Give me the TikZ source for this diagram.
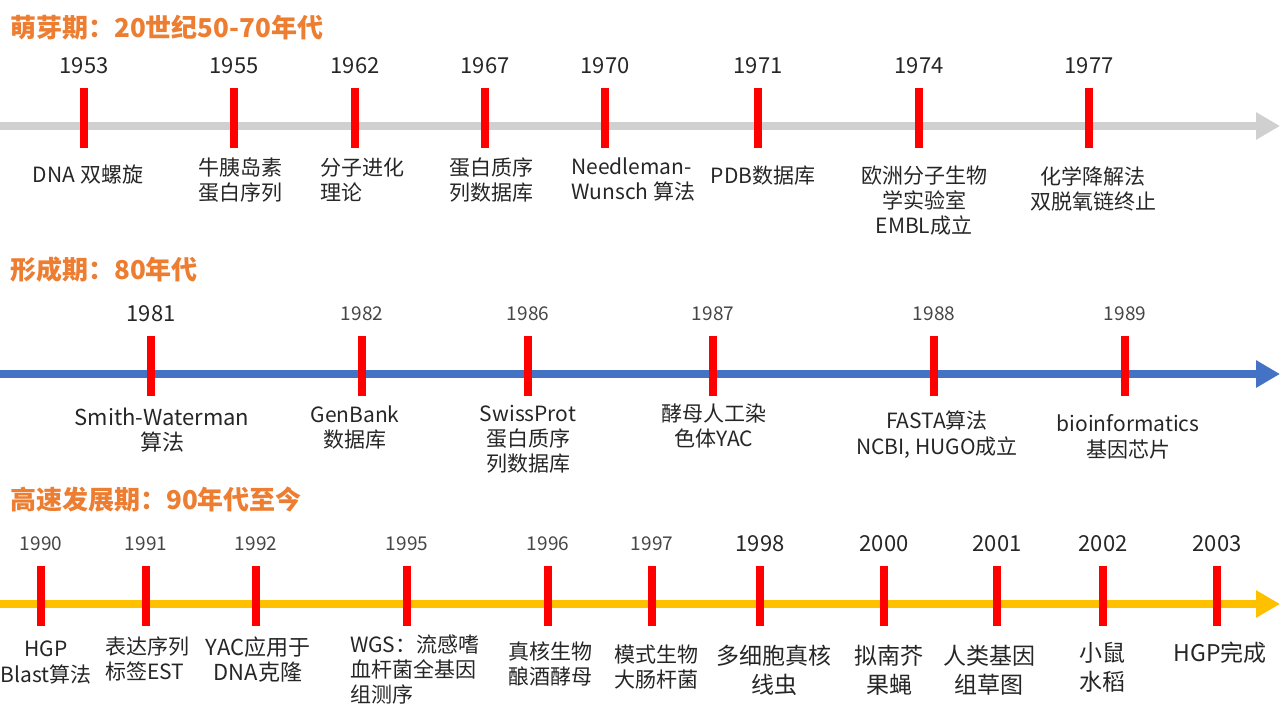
\documentclass[tikz,border=0pt]{standalone}
\usepackage{fontspec}
\setmainfont{Noto Sans CJK SC}
\usetikzlibrary{arrows.meta,positioning}
\definecolor{mOrange}{RGB}{237,125,49}
\definecolor{mGrey}{RGB}{208,208,208}
\definecolor{mBlue}{RGB}{68,114,196}
\definecolor{mGold}{RGB}{255,192,0}
\definecolor{mTick}{RGB}{255,0,0}
\definecolor{mText}{RGB}{38,38,38}
\definecolor{mSoft}{RGB}{70,70,70}
\tikzset{
  axisline/.style={line width=8pt, -{Triangle[length=24pt,width=26pt]}},
  tickmark/.style={mTick, line width=8pt},
  period/.style={anchor=west, inner sep=0pt, text=mOrange, font=\fontsize{26}{28}\selectfont\bfseries},
  yearbig/.style={inner sep=0pt, text=mText, font=\fontsize{22}{24}\selectfont},
  yearsoft/.style={inner sep=0pt, text=mSoft, font=\fontsize{19}{22}\selectfont},
  event/.style={anchor=north, inner sep=0pt, align=center, text=mText, font=\fontsize{21}{25}\selectfont},
  eventbig/.style={event, font=\fontsize{23}{29}\selectfont},
}

\begin{document}
\begin{tikzpicture}[x=1pt, y=-1pt]
  \useasboundingbox (0,0) rectangle (1280,720);
  % three periods: title, axis with arrow, red year marks
  \node[period] (p1) at (10,28) {萌芽期：20世纪50-70年代};
  \node[period] (p2) at (10,270) {形成期：80年代};
  \node[period] (p3) at (10,500) {高速发展期：90年代至今};
  \coordinate (s1) at (0,126);  \coordinate (f1) at (1280,126);
  \coordinate (s2) at (0,374);  \coordinate (f2) at (1280,374);
  \coordinate (s3) at (0,604);  \coordinate (f3) at (1280,604);
  \draw[axisline, mGrey] (s1) -- (f1);
  \draw[axisline, mBlue] (s2) -- (f2);
  \draw[axisline, mGold] (s3) -- (f3);
  \foreach \x/\yr in {84/1953,234/1955,355/1962,485/1967,605/1970,758/1971,919/1974,1089/1977}{
    \draw[tickmark] (\x,88) -- (\x,148);
    \node[yearbig] (y\yr) at (\x,66) {\yr};}
  \foreach \x/\yr/\st in {151/1981/yearbig,362/1982/yearsoft,528/1986/yearsoft,713/1987/yearsoft,934/1988/yearsoft,1125/1989/yearsoft}{
    \draw[tickmark] (\x,336) -- (\x,396);
    \node[\st] (y\yr) at (\x,314) {\yr};}
  \foreach \x/\yr/\st in {41/1990/yearsoft,146/1991/yearsoft,256/1992/yearsoft,407/1995/yearsoft,548/1996/yearsoft,652/1997/yearsoft,
                          760/1998/yearbig,884/2000/yearbig,997/2001/yearbig,1103/2002/yearbig,1217/2003/yearbig}{
    \draw[tickmark] (\x,566) -- (\x,626);
    \node[\st] (y\yr) at (\x,544) {\yr};}
  % events under the first axis
  \node[event] (e1953) at (88,165) {DNA 双螺旋};
  \node[event] (e1955) at (240,158) {牛胰岛素\\蛋白序列};
  \node[event, anchor=north west, align=left] (e1962) at (320,158) {分子进化\\理论};
  \node[event] (e1967) at (491,158) {蛋白质序\\列数据库};
  \node[event, anchor=north west, align=left] (e1970) at (571,158) {Needleman-\\Wunsch 算法};
  \node[event] (e1971) at (763,166) {PDB数据库};
  \node[event] (e1974) at (924,166) {欧洲分子生物\\学实验室\\EMBL成立};
  \node[event] (e1977) at (1093,166) {化学降解法\\双脱氧链终止};
  % events under the second axis
  \node[event, font=\fontsize{22}{25}\selectfont] (e1981) at (162,408) {Smith-Waterman\\算法};
  \node[event] (e1982) at (355,406) {GenBank\\数据库};
  \node[event] (e1986) at (528,405) {SwissProt\\蛋白质序\\列数据库};
  \node[event] (e1987) at (714,404) {酵母人工染\\色体YAC};
  \node[event, font=\fontsize{21}{26}\selectfont] (e1988) at (937,411) {FASTA算法\\NCBI, HUGO成立};
  \node[event, font=\fontsize{21}{26}\selectfont] (e1989) at (1128,414) {bioinformatics\\基因芯片};
  % events under the third axis
  \node[event, font=\fontsize{21}{26}\selectfont] (e1990) at (46,641) {HGP\\Blast算法};
  \node[event, anchor=north west, align=left] (e1991) at (105,637) {表达序列\\标签EST};
  \node[event, font=\fontsize{22}{25}\selectfont] (e1992) at (258,637) {YAC应用于\\DNA克隆};
  \node[event, anchor=north west, align=left] (e1995) at (350,635) {WGS：流感嗜\\血杆菌全基因\\组测序};
  \node[event] (e1996) at (550,642) {真核生物\\酿酒酵母};
  \node[event] (e1997) at (656,645) {模式生物\\大肠杆菌};
  \node[eventbig] (e1998) at (774,645) {多细胞真核\\线虫};
  \node[eventbig] (e2000) at (889,645) {拟南芥\\果蝇};
  \node[eventbig] (e2001) at (989,645) {人类基因\\组草图};
  \node[eventbig] (e2002) at (1102,642) {小鼠\\水稻};
  \node[eventbig] (e2003) at (1220,642) {HGP完成};
\end{tikzpicture}
\end{document}
